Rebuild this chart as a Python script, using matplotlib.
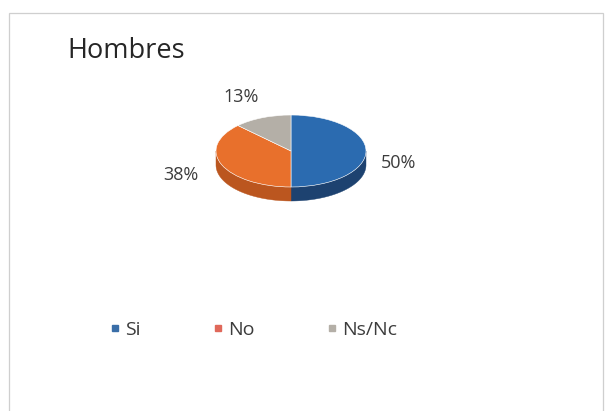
import math
import numpy as np
import matplotlib
matplotlib.use("Agg")
import matplotlib.pyplot as plt
from matplotlib.patches import Polygon
from matplotlib.lines import Line2D
from matplotlib.transforms import Affine2D

plt.rcParams['font.family'] = ['Open Sans', 'DejaVu Sans']

categories = ["Si", "No", "Ns/Nc"]
counts = [4, 3, 1]
title = "Hombres"

top_colors = ["#2b6bb0", "#e8702c", "#b4afa7"]
side_colors = ["#1d4270", "#bb561f", "#86837e"]
legend_colors = ["#3a6ea8", "#e0685a", "#b4afa7"]
text_color = "#3c3c3c"

W, H = 610, 411
fig = plt.figure(figsize=(W / 100, H / 100), dpi=100)
ax = fig.add_axes([0, 0, 1, 1])

total = sum(counts)
pcts = [100 * c / total for c in counts]

# pie geometry in pixel units (y up)
cx, cy = 291, H - 151
rx, ry = 75, 36
depth = 14
squash = Affine2D().translate(-cx, -cy).scale(1, ry / rx).translate(cx, cy)

wedges, _ = ax.pie(counts, startangle=90, counterclock=False, radius=rx,
                   center=(cx, cy), colors=top_colors,
                   wedgeprops=dict(edgecolor="white", linewidth=0.4))
for w in wedges:
    w.set_transform(squash + ax.transData)
    w.set_zorder(3)

# side walls for the front half of the ellipse
for w, sc in zip(wedges, side_colors):
    t1, t2 = w.theta1 % 360, w.theta2 % 360
    if t2 <= t1:
        t2 += 360
    for lo, hi in [(180, 360), (540, 720)]:
        a, b = max(t1, lo), min(t2, hi)
        if b <= a:
            continue
        t = np.radians(np.linspace(a, b, 60))
        xs = cx + rx * np.cos(t)
        ys = cy + ry * np.sin(t)
        pts = np.column_stack([np.r_[xs, xs[::-1]],
                               np.r_[ys, ys[::-1] - depth]])
        ax.add_patch(Polygon(pts, closed=True, facecolor=sc,
                             edgecolor=sc, linewidth=0.3, zorder=2))

# percentage labels, placed outside each slice
label_offsets = [(33, -12), (-41, -10), (-21, 21)]
for w, p, (dx, dy) in zip(wedges, pcts, label_offsets):
    mid = math.radians((w.theta1 + w.theta2) / 2)
    x = cx + rx * math.cos(mid) + dx
    y = cy + ry * math.sin(mid) + dy
    ax.text(x, y, f"{math.floor(p + 0.5)}%", ha="center", va="center",
            fontsize=13, color=text_color, zorder=4)

ax.text(67, H - 51, title, ha="left", va="center", fontsize=19.5,
        color="#262626")

# chart frame (bottom edge runs off the image)
ax.plot([9, 9, 603, 603], [-5, H - 13, H - 13, -5], color="#cfcfcf",
        linewidth=0.9, solid_joinstyle="miter")

handles = [Line2D([], [], linestyle="none", marker="s", markersize=4,
                  markerfacecolor=c, markeredgecolor=c) for c in legend_colors]
ax.legend(handles, categories, loc="center left",
          bbox_to_anchor=(110 / W, 1 - 330 / H), ncol=3, frameon=False,
          fontsize=14, handlelength=0.5, handletextpad=0.3,
          columnspacing=3.7, borderpad=0, borderaxespad=0,
          labelcolor=text_color)

ax.set_xlim(0, W)
ax.set_ylim(0, H)
ax.set_aspect("auto")
ax.axis("off")

fig.savefig("out.png", dpi=100, facecolor="white")
